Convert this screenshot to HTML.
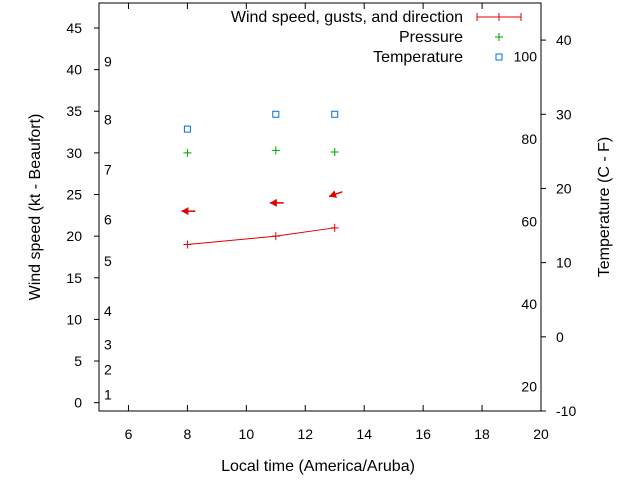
<!DOCTYPE html>
<html><head><meta charset="utf-8"><style>
body{margin:0;background:#fff}
svg{display:block;font-family:"Liberation Sans",sans-serif;font-size:14px}
.big{font-size:16px}
</style></head><body>
<svg id="c" width="640" height="480"></svg>
<script>
const hours=[8,11,13];
const windKt=[19,20,21];
const dirKt=[23,24,25];
const dirAngle=[180,180,200];
const pressure=[30,30.3,30.1];
const tempC=[28,30,30];
const xTicks=[6,8,10,12,14,16,18,20];
const yTicks=[0,5,10,15,20,25,30,35,40,45];
const y2Ticks=[-10,0,10,20,30,40];
const beaufortLabels=["1","2","3","4","5","6","7","8","9"];
const beaufortKt=[1,4,7,11,17,22,28,34,41];
const fLabels=[20,40,60,80,100];
const L=99,R=541,T=3,B=411;
const X=v=>L+(v-5)*(R-L)/15;
const Y=v=>B-(v+1)*(B-T)/49;
const Y2=v=>B-(v+10)*(B-T)/55;
const NS="http://www.w3.org/2000/svg";
const svg=document.getElementById('c');
function mk(t,a,txt,name){const e=document.createElementNS(NS,t);for(const k in a)e.setAttribute(k,a[k]);if(txt!==undefined)e.textContent=txt;


svg.appendChild(e);return e;}
mk('rect',{x:L,y:T,width:R-L,height:B-T,fill:'none',stroke:'#000'},undefined,'plot-frame');
xTicks.forEach(v=>{mk('line',{x1:X(v),x2:X(v),y1:B,y2:B-6,stroke:'#000'},undefined,'x-tick');mk('line',{x1:X(v),x2:X(v),y1:T,y2:T+6,stroke:'#000'},undefined,'x-tick-top');mk('text',{x:X(v),y:439,'text-anchor':'middle'},v,'x-tick-label');});
yTicks.forEach(v=>{mk('line',{x1:L-5,x2:L,y1:Y(v),y2:Y(v),stroke:'#000'},undefined,'y-tick');mk('text',{x:82,y:Y(v)+5,'text-anchor':'end'},v,'y-tick-label');});
y2Ticks.forEach(v=>{mk('line',{x1:R,x2:R+5,y1:Y2(v),y2:Y2(v),stroke:'#000'},undefined,'y2-tick');mk('text',{x:556,y:Y2(v)+5},v,'y2-tick-label');});
beaufortLabels.forEach((s,i)=>mk('text',{x:104,y:Y(beaufortKt[i])+5},s,'beaufort-label'));
fLabels.forEach(f=>mk('text',{x:537,y:Y2((f-32)*5/9)+5,'text-anchor':'end'},f,'fahrenheit-label'));
mk('text',{x:318,y:471,'text-anchor':'middle',class:'big'},'Local time (America/Aruba)','x-axis-title');
mk('text',{transform:'translate(40,207) rotate(-90)','text-anchor':'middle',class:'big'},'Wind speed (kt - Beaufort)','y-axis-title');
mk('text',{transform:'translate(609,207) rotate(-90)','text-anchor':'middle',class:'big'},'Temperature (C - F)','y2-axis-title');
mk('polyline',{points:hours.map((h,i)=>X(h)+','+Y(windKt[i])).join(' '),fill:'none',stroke:'#e00000'},undefined,'wind-line');
hours.forEach((h,i)=>{const x=X(h),y=Y(windKt[i]);mk('path',{d:`M${x-4},${y}h8M${x},${y-4}v8`,stroke:'#e00000'},undefined,'wind-point');});
hours.forEach((h,i)=>{const x=X(h),y=Y(dirKt[i]);const a=dirAngle[i]*Math.PI/180;const dx=Math.cos(a),dy=-Math.sin(a);
const tx=x-dx*8,ty=y-dy*8,hx=x+dx*6,hy=y+dy*6;
mk('line',{x1:tx,y1:ty,x2:hx,y2:hy,stroke:'#e00000','stroke-width':1.5},undefined,'direction-arrow-shaft');
const px=-dy,py=dx;
mk('polygon',{points:`${hx},${hy} ${hx-dx*7+px*4},${hy-dy*7+py*4} ${hx-dx*7-px*4},${hy-dy*7-py*4}`,fill:'#e00000'},undefined,'direction-arrow-head');});
hours.forEach((h,i)=>{const x=X(h),y=Y(pressure[i]);mk('path',{d:`M${x-4},${y}h8M${x},${y-4}v8`,stroke:'#00a000'},undefined,'pressure-point');});
hours.forEach((h,i)=>{const x=X(h),y=Y2(tempC[i]);mk('rect',{x:x-3,y:y-3,width:6,height:6,fill:'none',stroke:'#0070e0'},undefined,'temperature-point');});
mk('text',{x:463,y:22,'text-anchor':'end',class:'big'},'Wind speed, gusts, and direction','legend-wind-label');
mk('path',{d:'M477,17h44M477,13v8M521,13v8M499,13v8',stroke:'#e00000'},undefined,'legend-wind-symbol');
mk('text',{x:463,y:42,'text-anchor':'end',class:'big'},'Pressure','legend-pressure-label');
mk('path',{d:'M495,37h8M499,33v8',stroke:'#00a000'},undefined,'legend-pressure-symbol');
mk('text',{x:463,y:62,'text-anchor':'end',class:'big'},'Temperature','legend-temperature-label');
mk('rect',{x:496,y:54,width:6,height:6,fill:'none',stroke:'#0070e0'},undefined,'legend-temperature-symbol');
</script>
</body></html>
